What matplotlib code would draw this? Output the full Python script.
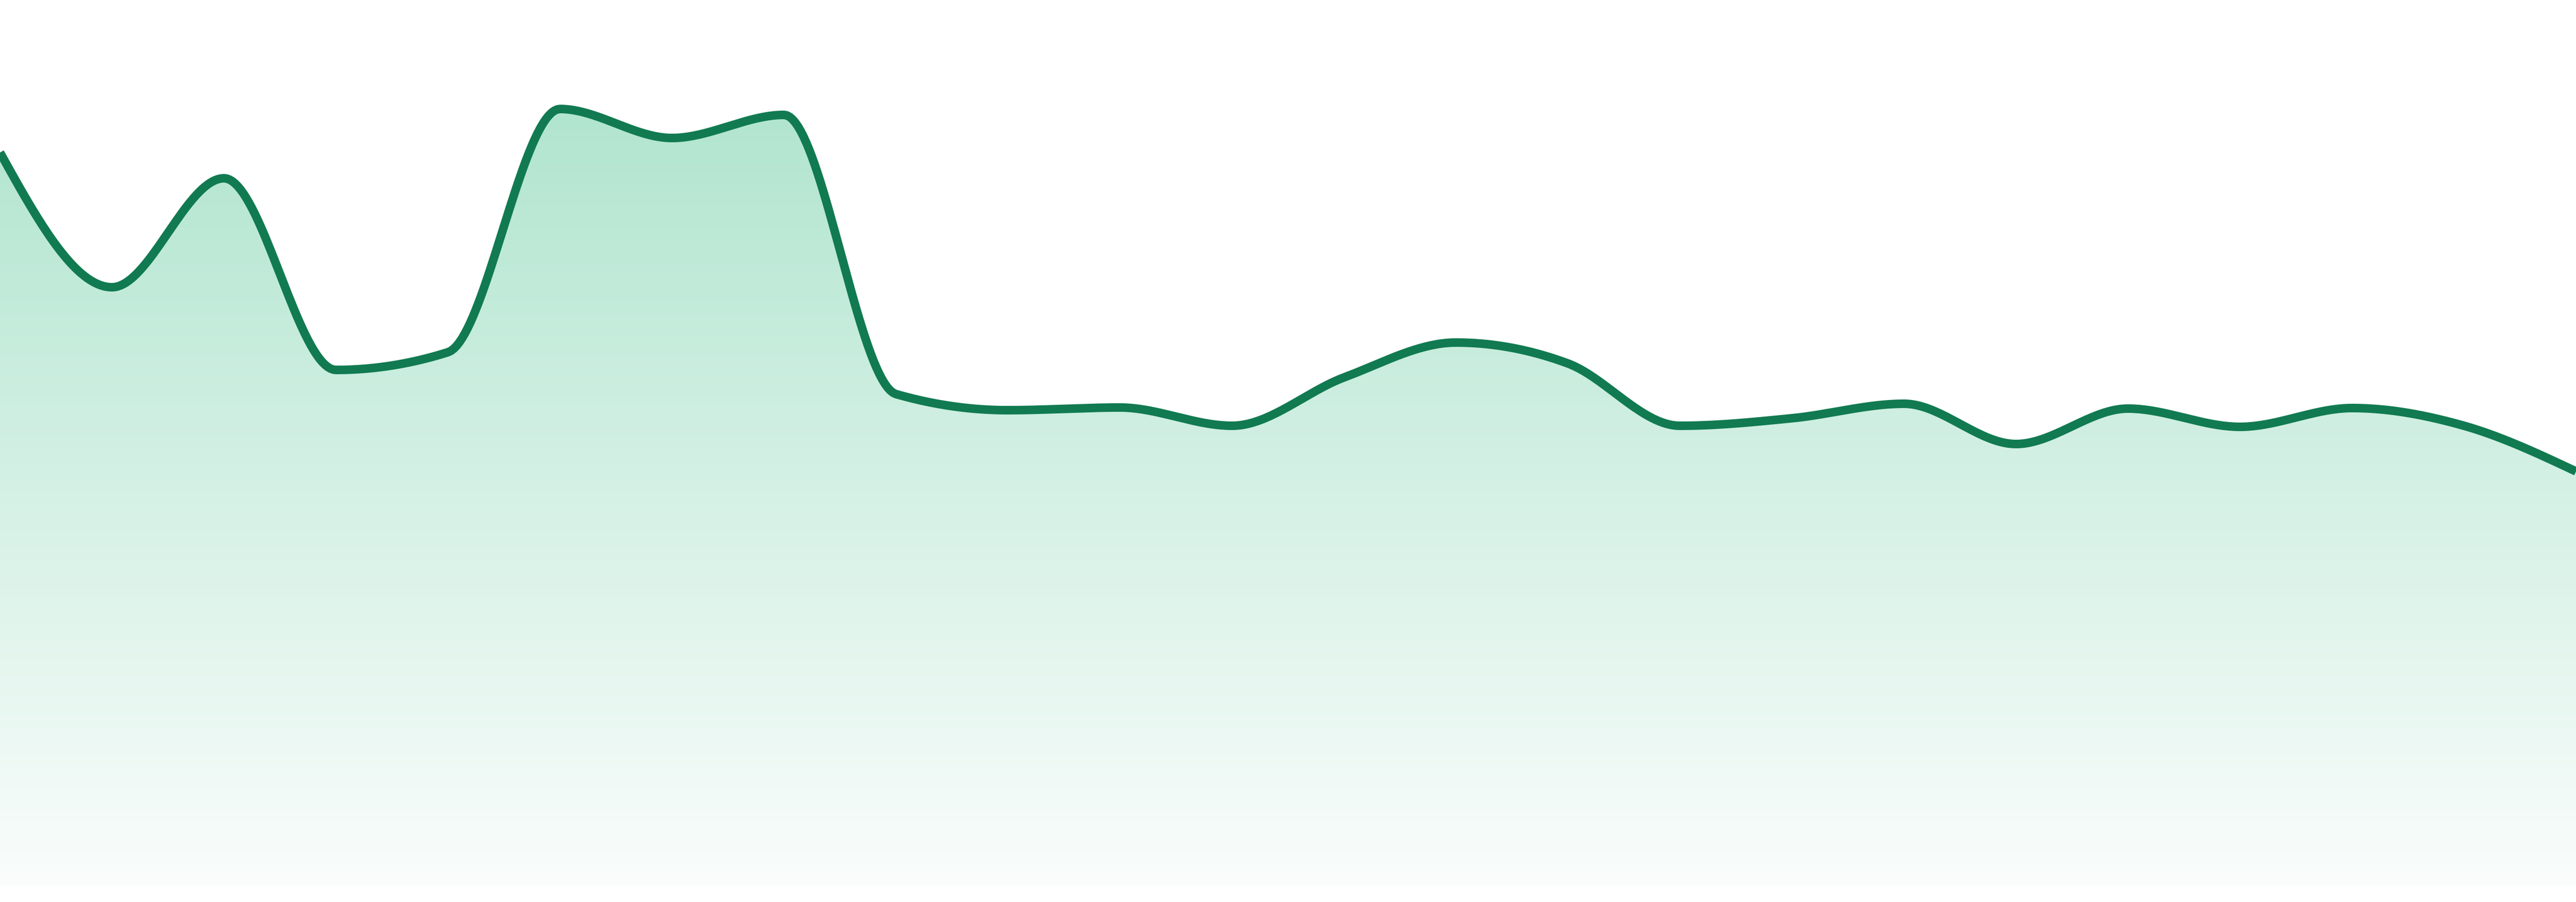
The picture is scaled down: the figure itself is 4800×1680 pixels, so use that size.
import matplotlib
matplotlib.use("Agg")
import matplotlib.pyplot as plt
import numpy as np
from matplotlib.colors import LinearSegmentedColormap

# series values (24 evenly spaced points)
idx = list(range(24))
values = [136.6, 111.5, 131.8, 96.1, 99.4, 144.7, 139.3, 143.6,
          91.6, 88.6, 89.1, 85.7, 94.7, 101.2, 97.3, 85.7,
          87.1, 89.8, 82.3, 88.9, 85.5, 89.0, 85.7, 77.2]

line_color = "#117a51"
fill_top = "#b1e5cf"
fill_bottom = "#fafdfc"


def monotone_x(x, y, n=40):
    # d3 curveMonotoneX style interpolation (hermite with Fritsch-Carlson slopes)
    x = np.asarray(x, float)
    y = np.asarray(y, float)
    h = np.diff(x)
    s = np.diff(y) / h
    t = np.zeros_like(y)
    for i in range(1, len(y) - 1):
        s0, s1 = s[i - 1], s[i]
        p = (s0 * h[i] + s1 * h[i - 1]) / (h[i - 1] + h[i])
        t[i] = (np.sign(s0) + np.sign(s1)) * min(abs(s0), abs(s1), 0.5 * abs(p))
    t[0] = (3 * s[0] - t[1]) / 2
    t[-1] = (3 * s[-1] - t[-2]) / 2
    xs, ys = [], []
    for i in range(len(x) - 1):
        u = np.linspace(0, 1, n, endpoint=False)
        h00 = 2 * u**3 - 3 * u**2 + 1
        h10 = u**3 - 2 * u**2 + u
        h01 = -2 * u**3 + 3 * u**2
        h11 = u**3 - u**2
        xs.append(x[i] + u * h[i])
        ys.append(h00 * y[i] + h10 * h[i] * t[i] + h01 * y[i + 1] + h11 * h[i] * t[i + 1])
    xs.append([x[-1]])
    ys.append([y[-1]])
    return np.concatenate(xs), np.concatenate(ys)


xs, ys = monotone_x(idx, values)

fig = plt.figure(figsize=(48, 16.8), dpi=100)
ax = fig.add_axes([0, 0, 1, 1])
ax.set_xlim(0, 23)
ax.set_ylim(-3, 165)
ax.axis("off")

# vertical gradient under the curve, clipped to the area
top = max(values)
cmap = LinearSegmentedColormap.from_list("g", [fill_bottom, fill_top])
grad = np.linspace(0, 1, 256).reshape(-1, 1)
img = ax.imshow(grad, extent=[0, 23, 0, top], origin="lower", aspect="auto",
                cmap=cmap, vmin=0, vmax=1, zorder=1)
poly = ax.fill_between(xs, ys, 0, color="none", lw=0)
img.set_clip_path(poly.get_paths()[0], transform=ax.transData)

ax.plot(xs, ys, color=line_color, lw=11.5, solid_capstyle="butt",
        solid_joinstyle="round", zorder=3)

fig.savefig("out.png", dpi=100, facecolor="white")
